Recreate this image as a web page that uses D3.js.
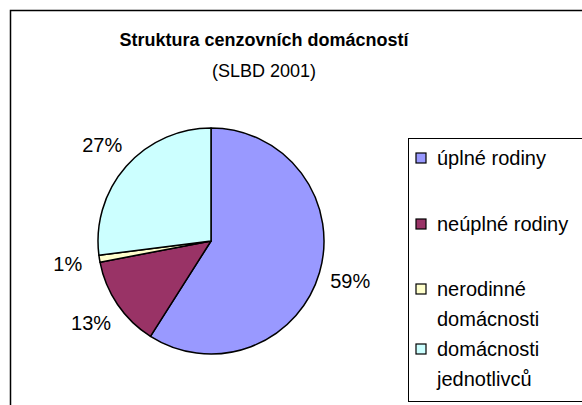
<!DOCTYPE html>
<html>
<head>
<meta charset="utf-8">
<script src="https://cdn.jsdelivr.net/npm/d3@7"></script>
<style>
  body { margin: 0; background: #fff; }
  svg { display: block; font-family: "Liberation Sans", Arial, sans-serif; }
</style>
</head>
<body>
<svg id="chart"></svg>
<script>
// data
const categories = ["úplné rodiny", "neúplné rodiny", "nerodinné domácnosti", "domácnosti jednotlivců"];
const values = [59, 13, 1, 27];
const labels = ["59%", "13%", "1%", "27%"];
const legendLines = [["úplné rodiny"], ["neúplné rodiny"], ["nerodinné", "domácnosti"], ["domácnosti", "jednotlivců"]];
const colors = ["#9999ff", "#993366", "#ffffcc", "#ccffff"];

const width = 582, height = 405;
const svg = d3.select("#chart").attr("width", width).attr("height", height);

// outer chart frame (runs off right and bottom)
svg.append("rect")
  .attr("x", 10.5).attr("y", 10.5)
  .attr("width", 600).attr("height", 420)
  .attr("fill", "#fff").attr("stroke", "#000").attr("stroke-width", 1.5);

svg.append("text")
  .attr("x", 264).attr("y", 46)
  .attr("text-anchor", "middle")
  .attr("font-size", 18).attr("font-weight", "bold")
  .text("Struktura cenzovních domácností");

svg.append("text")
  .attr("x", 264).attr("y", 77)
  .attr("text-anchor", "middle")
  .attr("font-size", 18)
  .text("(SLBD 2001)");

const cx = 211, cy = 241, r = 113;
const pie = d3.pie().sort(null).value(d => d);
const arcs = pie(values);
const arc = d3.arc().innerRadius(0).outerRadius(r);
const labelArc = d3.arc().innerRadius(145).outerRadius(145);

const g = svg.append("g").attr("transform", `translate(${cx},${cy})`);

g.selectAll("path")
  .data(arcs)
  .join("path")
  .attr("d", arc)
  .attr("fill", (d, i) => colors[i])
  .attr("stroke", "#000")
  .attr("stroke-width", 1.5)
  .attr("stroke-linejoin", "round");

g.selectAll("text.lbl")
  .data(arcs)
  .join("text")
  .attr("class", "lbl")
  .attr("transform", d => `translate(${labelArc.centroid(d)})`)
  .attr("text-anchor", "middle")
  .attr("dy", "0.35em")
  .attr("font-size", 20)
  .text((d, i) => labels[i]);

// legend
const legend = svg.append("g");
legend.append("rect")
  .attr("x", 408.5).attr("y", 138.5)
  .attr("width", 200).attr("height", 263)
  .attr("fill", "#fff").attr("stroke", "#000").attr("stroke-width", 1);

const itemY = [158, 224, 289, 349];
const lineH = 30;

const items = legend.selectAll("g.item")
  .data(categories)
  .join("g")
  .attr("class", "item")
  .attr("transform", (d, i) => `translate(0,${itemY[i]})`);

items.append("rect")
  .attr("x", 416).attr("y", -5)
  .attr("width", 10).attr("height", 10)
  .attr("fill", (d, i) => colors[i])
  .attr("stroke", "#000").attr("stroke-width", 1.2);

items.append("text")
  .attr("x", 437)
  .attr("font-size", 20)
  .selectAll("tspan")
  .data((d, i) => legendLines[i])
  .join("tspan")
  .attr("x", 437)
  .attr("y", (d, j) => j * lineH)
  .attr("dy", "0.35em")
  .text(d => d);
</script>
</body>
</html>
